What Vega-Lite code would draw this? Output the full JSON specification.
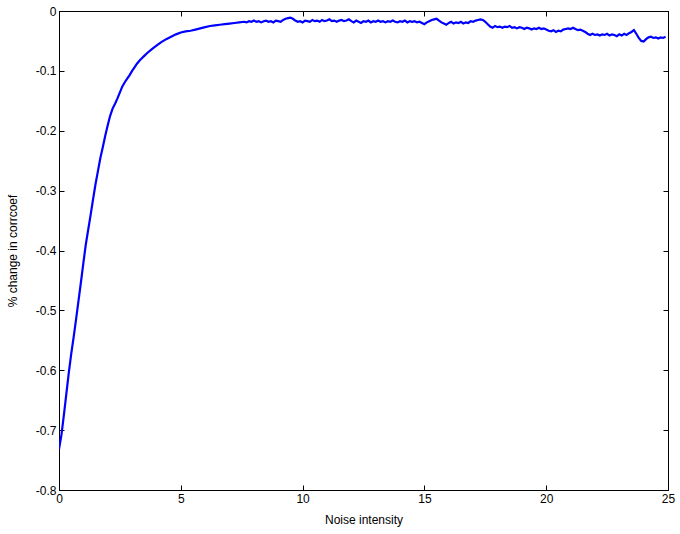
{
  "$schema": "https://vega.github.io/schema/vega-lite/v6.json",
  "width": 609,
  "height": 479,
  "autosize": {"type": "none"},
  "padding": {"left": 59, "top": 11, "right": 12, "bottom": 44},
  "background": "white",
  "config": {
    "view": {"stroke": "black", "strokeWidth": 1},
    "font": "Liberation Sans",
    "axis": {
      "labelFont": "Liberation Sans",
      "titleFont": "Liberation Sans",
      "labelFontSize": 12,
      "titleFontSize": 12,
      "titleFontWeight": "normal",
      "labelColor": "black",
      "titleColor": "black",
      "domainColor": "black",
      "tickColor": "black",
      "grid": false,
      "tickSize": -5,
      "domain": true
    }
  },
  "data": {"values": [
    {"x":0.0,"y":-0.732},{"x":0.1,"y":-0.708},{"x":0.2,"y":-0.675},{"x":0.3,"y":-0.640},{"x":0.4,"y":-0.605},
    {"x":0.5,"y":-0.573},{"x":0.6,"y":-0.545},{"x":0.7,"y":-0.515},{"x":0.8,"y":-0.484},{"x":0.9,"y":-0.453},
    {"x":1.0,"y":-0.421},{"x":1.1,"y":-0.390},{"x":1.2,"y":-0.365},{"x":1.3,"y":-0.340},{"x":1.4,"y":-0.314},
    {"x":1.5,"y":-0.289},{"x":1.6,"y":-0.267},{"x":1.7,"y":-0.245},{"x":1.8,"y":-0.227},{"x":1.9,"y":-0.208},
    {"x":2.0,"y":-0.191},{"x":2.1,"y":-0.175},{"x":2.2,"y":-0.163},{"x":2.3,"y":-0.155},{"x":2.4,"y":-0.146},
    {"x":2.5,"y":-0.136},{"x":2.6,"y":-0.126},{"x":2.7,"y":-0.119},{"x":2.8,"y":-0.113},{"x":2.9,"y":-0.107},
    {"x":3.0,"y":-0.100},{"x":3.1,"y":-0.094},{"x":3.2,"y":-0.088},{"x":3.3,"y":-0.083},{"x":3.4,"y":-0.079},
    {"x":3.5,"y":-0.075},{"x":3.6,"y":-0.071},{"x":3.8,"y":-0.064},{"x":4.0,"y":-0.058},{"x":4.2,"y":-0.052},
    {"x":4.4,"y":-0.047},{"x":4.6,"y":-0.043},{"x":4.8,"y":-0.039},{"x":5.0,"y":-0.036},{"x":5.2,"y":-0.034},
    {"x":5.4,"y":-0.033},{"x":5.6,"y":-0.031},{"x":5.8,"y":-0.029},{"x":6.0,"y":-0.027},{"x":6.2,"y":-0.025},
    {"x":6.4,"y":-0.024},{"x":6.6,"y":-0.023},{"x":6.8,"y":-0.022},
    {"x":7.0,"y":-0.021},{"x":7.2,"y":-0.020},{"x":7.4,"y":-0.019},
    {"x":7.6,"y":-0.018},{"x":7.7,"y":-0.019},{"x":7.8,"y":-0.017},{"x":7.9,"y":-0.018},{"x":8.0,"y":-0.016},
    {"x":8.1,"y":-0.018},{"x":8.2,"y":-0.017},{"x":8.3,"y":-0.019},{"x":8.4,"y":-0.017},{"x":8.5,"y":-0.016},
    {"x":8.6,"y":-0.018},{"x":8.7,"y":-0.017},{"x":8.8,"y":-0.019},{"x":8.9,"y":-0.016},{"x":9.0,"y":-0.017},
    {"x":9.1,"y":-0.018},{"x":9.2,"y":-0.015},{"x":9.3,"y":-0.013},{"x":9.4,"y":-0.012},{"x":9.5,"y":-0.011},
    {"x":9.6,"y":-0.013},{"x":9.7,"y":-0.016},{"x":9.8,"y":-0.018},{"x":9.9,"y":-0.017},{"x":10.0,"y":-0.019},
    {"x":10.1,"y":-0.016},{"x":10.2,"y":-0.017},{"x":10.3,"y":-0.018},{"x":10.4,"y":-0.015},{"x":10.5,"y":-0.017},
    {"x":10.6,"y":-0.016},{"x":10.7,"y":-0.018},{"x":10.8,"y":-0.015},{"x":10.9,"y":-0.017},{"x":11.0,"y":-0.016},
    {"x":11.1,"y":-0.014},{"x":11.2,"y":-0.017},{"x":11.3,"y":-0.016},{"x":11.4,"y":-0.018},{"x":11.5,"y":-0.016},
    {"x":11.6,"y":-0.015},{"x":11.7,"y":-0.017},{"x":11.8,"y":-0.016},{"x":11.9,"y":-0.014},{"x":12.0,"y":-0.017},
    {"x":12.1,"y":-0.019},{"x":12.2,"y":-0.016},{"x":12.3,"y":-0.018},{"x":12.4,"y":-0.020},{"x":12.5,"y":-0.017},
    {"x":12.6,"y":-0.018},{"x":12.7,"y":-0.016},{"x":12.8,"y":-0.019},{"x":12.9,"y":-0.017},{"x":13.0,"y":-0.018},
    {"x":13.1,"y":-0.016},{"x":13.2,"y":-0.018},{"x":13.3,"y":-0.017},{"x":13.4,"y":-0.019},{"x":13.5,"y":-0.017},
    {"x":13.6,"y":-0.018},{"x":13.7,"y":-0.016},{"x":13.8,"y":-0.018},{"x":13.9,"y":-0.019},{"x":14.0,"y":-0.017},
    {"x":14.1,"y":-0.018},{"x":14.2,"y":-0.016},{"x":14.3,"y":-0.019},{"x":14.4,"y":-0.017},{"x":14.5,"y":-0.018},
    {"x":14.6,"y":-0.017},{"x":14.7,"y":-0.019},{"x":14.8,"y":-0.018},{"x":14.9,"y":-0.020},{"x":15.0,"y":-0.022},
    {"x":15.1,"y":-0.019},{"x":15.2,"y":-0.017},{"x":15.3,"y":-0.015},{"x":15.4,"y":-0.014},{"x":15.5,"y":-0.013},
    {"x":15.6,"y":-0.016},{"x":15.7,"y":-0.019},{"x":15.8,"y":-0.021},{"x":15.9,"y":-0.023},{"x":16.0,"y":-0.020},
    {"x":16.1,"y":-0.018},{"x":16.2,"y":-0.021},{"x":16.3,"y":-0.019},{"x":16.4,"y":-0.020},{"x":16.5,"y":-0.018},
    {"x":16.6,"y":-0.021},{"x":16.7,"y":-0.019},{"x":16.8,"y":-0.020},{"x":16.9,"y":-0.017},{"x":17.0,"y":-0.018},
    {"x":17.1,"y":-0.016},{"x":17.2,"y":-0.015},{"x":17.3,"y":-0.014},{"x":17.4,"y":-0.015},{"x":17.5,"y":-0.018},
    {"x":17.6,"y":-0.022},{"x":17.7,"y":-0.026},{"x":17.8,"y":-0.028},{"x":17.9,"y":-0.025},{"x":18.0,"y":-0.027},
    {"x":18.1,"y":-0.026},{"x":18.2,"y":-0.028},{"x":18.3,"y":-0.026},{"x":18.4,"y":-0.027},{"x":18.5,"y":-0.025},
    {"x":18.6,"y":-0.028},{"x":18.7,"y":-0.027},{"x":18.8,"y":-0.029},{"x":18.9,"y":-0.027},{"x":19.0,"y":-0.028},
    {"x":19.1,"y":-0.030},{"x":19.2,"y":-0.028},{"x":19.3,"y":-0.029},{"x":19.4,"y":-0.031},{"x":19.5,"y":-0.029},
    {"x":19.6,"y":-0.030},{"x":19.7,"y":-0.028},{"x":19.8,"y":-0.030},{"x":19.9,"y":-0.029},{"x":20.0,"y":-0.031},
    {"x":20.1,"y":-0.033},{"x":20.2,"y":-0.034},{"x":20.3,"y":-0.032},{"x":20.4,"y":-0.035},{"x":20.5,"y":-0.033},
    {"x":20.6,"y":-0.034},{"x":20.7,"y":-0.031},{"x":20.8,"y":-0.030},{"x":20.9,"y":-0.029},{"x":21.0,"y":-0.030},
    {"x":21.1,"y":-0.028},{"x":21.2,"y":-0.030},{"x":21.3,"y":-0.032},{"x":21.4,"y":-0.031},{"x":21.5,"y":-0.033},
    {"x":21.6,"y":-0.035},{"x":21.7,"y":-0.038},{"x":21.8,"y":-0.040},{"x":21.9,"y":-0.038},{"x":22.0,"y":-0.040},
    {"x":22.1,"y":-0.039},{"x":22.2,"y":-0.041},{"x":22.3,"y":-0.039},{"x":22.4,"y":-0.040},{"x":22.5,"y":-0.038},
    {"x":22.6,"y":-0.041},{"x":22.7,"y":-0.039},{"x":22.8,"y":-0.040},{"x":22.9,"y":-0.042},{"x":23.0,"y":-0.039},
    {"x":23.1,"y":-0.041},{"x":23.2,"y":-0.038},{"x":23.3,"y":-0.040},{"x":23.4,"y":-0.037},{"x":23.5,"y":-0.035},
    {"x":23.6,"y":-0.032},{"x":23.7,"y":-0.038},{"x":23.8,"y":-0.045},{"x":23.9,"y":-0.050},{"x":24.0,"y":-0.051},
    {"x":24.1,"y":-0.047},{"x":24.2,"y":-0.044},{"x":24.3,"y":-0.043},{"x":24.4,"y":-0.045},{"x":24.5,"y":-0.044},
    {"x":24.6,"y":-0.046},{"x":24.7,"y":-0.044},{"x":24.8,"y":-0.045},{"x":24.9,"y":-0.043}
  ]},
  "layer": [
    {
      "mark": {"type": "line", "color": "#0000ff", "strokeWidth": 2.2, "clip": true},
      "encoding": {
        "x": {"field": "x", "type": "quantitative", "scale": {"domain": [0, 25], "nice": false, "zero": false},
          "axis": {"title": "Noise intensity", "values": [0,5,10,15,20,25], "labelPadding": 8, "titlePadding": 10, "labelFlush": false}},
        "y": {"field": "y", "type": "quantitative", "scale": {"domain": [-0.8, 0], "nice": false, "zero": false},
          "axis": {"title": "% change in corrcoef", "values": [-0.8,-0.7,-0.6,-0.5,-0.4,-0.3,-0.2,-0.1,0], "labelPadding": 8, "titlePadding": 16,
            "labelFlush": false, "labelExpr": "datum.value == 0 ? '0' : replace(format(datum.value, '.1f'), '\u2212', '-')"}}
      }
    },
    {
      "mark": {"type": "line", "opacity": 0},
      "encoding": {
        "x": {"field": "x", "type": "quantitative", "scale": {"domain": [0, 25], "nice": false, "zero": false},
          "axis": {"orient": "top", "title": null, "labels": false, "values": [0,5,10,15,20,25]}},
        "y": {"field": "y", "type": "quantitative", "scale": {"domain": [-0.8, 0], "nice": false, "zero": false},
          "axis": {"orient": "right", "title": null, "labels": false, "values": [-0.8,-0.7,-0.6,-0.5,-0.4,-0.3,-0.2,-0.1,0]}}
      }
    }
  ],
  "resolve": {"axis": {"x": "independent", "y": "independent"}}
}
